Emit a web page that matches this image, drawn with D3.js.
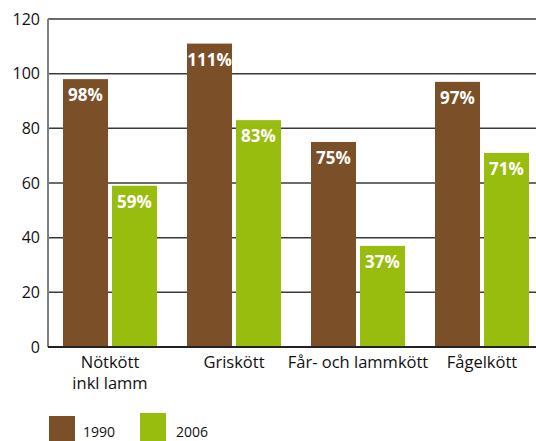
<!DOCTYPE html>
<html>
<head>
<meta charset="utf-8">
<script src="https://cdn.jsdelivr.net/npm/d3@7"></script>
<style>
  body { margin: 0; background: #fff; }
  svg { display: block; font-family: "Open Sans", sans-serif; }
</style>
</head>
<body>
<svg id="chart" width="536" height="441"></svg>
<script>
// chart data
var categories = ["Nötkött\ninkl lamm", "Griskött", "Får- och lammkött", "Fågelkött"];
var series = ["1990", "2006"];
var values1990 = [98, 111, 75, 97];
var values2006 = [59, 83, 37, 71];
var yTicks = [0, 20, 40, 60, 80, 100, 120];
var colors = ["#7b4f27", "#99bd0f"];

var svg = d3.select("#chart"),
    width = +svg.attr("width"),
    height = +svg.attr("height");

// note: "top" is taken by window.top, so use other names
var plotLeft = 48, plotTop = 19, plotBottom = 347;

var x0 = d3.scaleBand()
    .domain(categories)
    .range([plotLeft, plotLeft + 496])
    .paddingInner(30 / 124)
    .paddingOuter(15 / 124);

var x1 = d3.scaleBand()
    .domain(series)
    .range([0, x0.bandwidth()])
    .paddingInner(4 / 49);

var y = d3.scaleLinear()
    .domain([0, 120])
    .range([plotBottom, plotTop]);

var color = d3.scaleOrdinal().domain(series).range(colors);

// gridlines
svg.append("g")
    .selectAll("line")
    .data(yTicks.filter(function (d) { return d > 0; }))
    .enter().append("line")
    .attr("x1", plotLeft)
    .attr("x2", width)
    .attr("y1", function (d) { return y(d); })
    .attr("y2", function (d) { return y(d); })
    .attr("stroke", "#3a3a3a")
    .attr("stroke-width", 1.5);

// bars
var rows = categories.map(function (c, i) {
    return [
        {cat: c, key: "1990", value: values1990[i]},
        {cat: c, key: "2006", value: values2006[i]}
    ];
});

var groups = svg.append("g")
    .selectAll("g")
    .data(rows)
    .enter().append("g")
    .attr("transform", function (d) { return "translate(" + x0(d[0].cat) + ",0)"; });

groups.selectAll("rect")
    .data(function (d) { return d; })
    .enter().append("rect")
    .attr("x", function (d) { return x1(d.key); })
    .attr("y", function (d) { return y(d.value); })
    .attr("width", x1.bandwidth())
    .attr("height", function (d) { return y(0) - y(d.value); })
    .attr("fill", function (d) { return color(d.key); });

groups.selectAll("text")
    .data(function (d) { return d; })
    .enter().append("text")
    .attr("x", function (d) { return x1(d.key) + x1.bandwidth() / 2; })
    .attr("y", function (d) { return y(d.value) + 22; })
    .attr("text-anchor", "middle")
    .attr("fill", "#fff")
    .attr("font-weight", "bold")
    .attr("font-size", 17)
    .text(function (d) { return d.value + "%"; });

// axes lines
svg.append("line")
    .attr("x1", plotLeft).attr("x2", plotLeft)
    .attr("y1", y(120)).attr("y2", y(0))
    .attr("stroke", "#808080")
    .attr("stroke-width", 2);

svg.append("line")
    .attr("x1", plotLeft).attr("x2", width)
    .attr("y1", y(0)).attr("y2", y(0))
    .attr("stroke", "#222")
    .attr("stroke-width", 2);

// y tick labels
svg.append("g")
    .selectAll("text")
    .data(yTicks)
    .enter().append("text")
    .attr("x", plotLeft - 8)
    .attr("y", function (d) { return y(d); })
    .attr("dy", "0.36em")
    .attr("text-anchor", "end")
    .attr("font-size", 16)
    .attr("fill", "#111")
    .text(function (d) { return d; });

// category labels
var catLabels = svg.append("g")
    .selectAll("text")
    .data(categories)
    .enter().append("text")
    .attr("x", function (d) { return x0(d) + x0.bandwidth() / 2; })
    .attr("y", 368)
    .attr("text-anchor", "middle")
    .attr("font-size", 16.5)
    .attr("fill", "#111");

catLabels.selectAll("tspan")
    .data(function (d) { return d.split("\n"); })
    .enter().append("tspan")
    .attr("x", function () { return d3.select(this.parentNode).attr("x"); })
    .attr("dy", function (d, i) { return i === 0 ? 0 : 21; })
    .text(function (d) { return d; });

// legend
var legendPos = [{x: 49, y: 416, tx: 83, ty: 437}, {x: 140, y: 413, tx: 176, ty: 437}];
var legend = svg.append("g")
    .selectAll("g")
    .data(series)
    .enter().append("g");

legend.append("rect")
    .attr("x", function (d, i) { return legendPos[i].x; })
    .attr("y", function (d, i) { return legendPos[i].y; })
    .attr("width", 26)
    .attr("height", 30)
    .attr("fill", function (d) { return color(d); });

legend.append("text")
    .attr("x", function (d, i) { return legendPos[i].tx; })
    .attr("y", function (d, i) { return legendPos[i].ty; })
    .attr("font-size", 14)
    .attr("fill", "#111")
    .text(function (d) { return d; });
</script>
</body>
</html>
